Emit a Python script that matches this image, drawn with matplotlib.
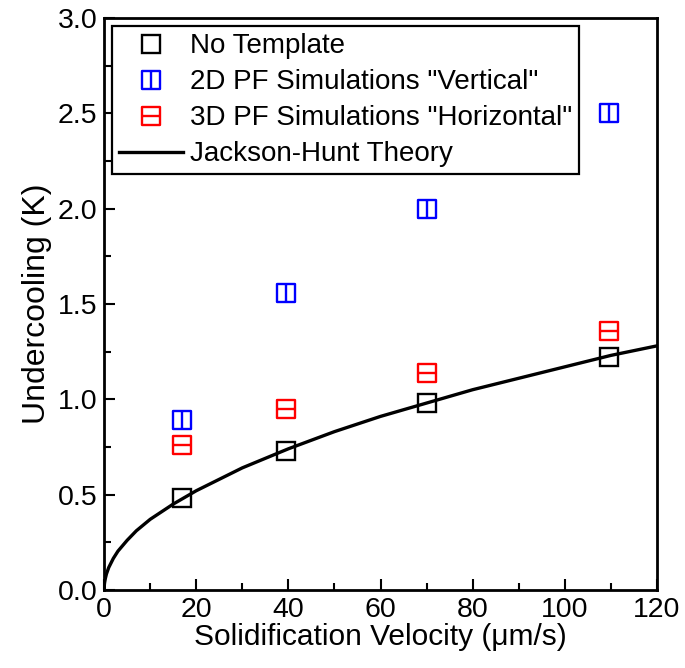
#!/usr/bin/env python3
"""Undercooling vs solidification velocity, with Jackson-Hunt curve."""

import matplotlib
matplotlib.use("Agg")
import matplotlib.pyplot as plt
from matplotlib.path import Path
from matplotlib.ticker import MultipleLocator

plt.rcParams["font.family"] = ["Liberation Sans", "DejaVu Sans"]

# data
velocity = [17.0, 39.5, 70.0, 109.5]
no_template = [0.48, 0.73, 0.98, 1.22]
pf_vertical = [0.89, 1.56, 2.00, 2.50]
pf_horizontal = [0.76, 0.95, 1.14, 1.36]

theory_v = [0, 0.05, 0.1, 0.25, 0.5, 1, 2, 3, 5, 7, 10, 15, 20, 30, 40, 50, 60,
            70, 80, 90, 100, 110, 120]
theory_dt = [0, 0.026, 0.037, 0.058, 0.083, 0.117, 0.165, 0.203, 0.26, 0.31,
             0.37, 0.45, 0.52, 0.64, 0.74, 0.83, 0.91, 0.98, 1.05, 1.11, 1.17,
             1.23, 1.28]

labels = ["No Template", '2D PF Simulations "Vertical"',
          '3D PF Simulations "Horizontal"', "Jackson-Hunt Theory"]

# square markers with a centre line
sq = [(-1, -1), (1, -1), (1, 1), (-1, 1), (-1, -1)]
sq_codes = [Path.MOVETO, Path.LINETO, Path.LINETO, Path.LINETO, Path.CLOSEPOLY]
vbox = Path(sq + [(0, -1), (0, 1)], sq_codes + [Path.MOVETO, Path.LINETO])
hbox = Path(sq + [(-1, 0), (1, 0)], sq_codes + [Path.MOVETO, Path.LINETO])

fig = plt.figure(figsize=(6.85, 6.68), dpi=100)
ax = fig.add_axes([0.152, 0.117, 0.807, 0.856])

mk = dict(linestyle="none", markersize=12.5, markerfacecolor="none", markeredgewidth=1.7)
ax.plot(velocity, no_template, marker="s", color="black", label=labels[0], **mk)
ax.plot(velocity, pf_vertical, marker=vbox, color="#0000ff", label=labels[1], **mk)
ax.plot(velocity, pf_horizontal, marker=hbox, color="#ff0000", label=labels[2], **mk)
ax.plot(theory_v, theory_dt, color="black", linewidth=2.4, label=labels[3], zorder=1)

ax.set_xlim(0, 120)
ax.set_ylim(0, 3.0)
ax.xaxis.set_major_locator(MultipleLocator(20))
ax.xaxis.set_minor_locator(MultipleLocator(10))
ax.yaxis.set_major_locator(MultipleLocator(0.5))
ax.yaxis.set_minor_locator(MultipleLocator(0.25))
ax.yaxis.set_major_formatter(lambda v, _: f"{v:.1f}")
ax.tick_params(which="both", direction="in", labelsize=20.5, width=1.5)
ax.tick_params(which="major", length=8, pad=5)
ax.tick_params(which="minor", length=5)
for s in ax.spines.values():
    s.set_linewidth(2)

ax.set_xlabel("Solidification Velocity (\u03bcm/s)", fontsize=21.5, labelpad=0)
ax.set_ylabel("Undercooling (K)", fontsize=23, labelpad=4)

leg = ax.legend(loc="upper left", bbox_to_anchor=(0.005, 0.995), fontsize=20,
                fancybox=False, framealpha=1, edgecolor="black",
                handlelength=2.3, handletextpad=0.25, borderpad=0.25,
                labelspacing=0.36, borderaxespad=0.2)
leg.get_frame().set_linewidth(1.6)

fig.savefig("out.png", dpi=100, facecolor="white")
